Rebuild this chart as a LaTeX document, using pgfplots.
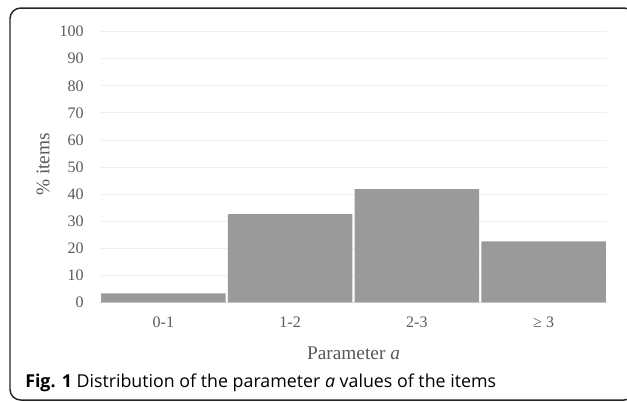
\documentclass[border=0pt]{standalone}
\usepackage{fontspec}
\setmainfont{Liberation Serif}
\newfontfamily\capfont{Open Sans}
\usepackage{pgfplots}
\pgfplotsset{compat=1.18}
\definecolor{barg}{RGB}{154,154,154}
\definecolor{txtg}{RGB}{89,89,89}
\definecolor{gridg}{RGB}{240,240,240}
\definecolor{axg}{RGB}{217,217,217}
\begin{document}
\begin{tikzpicture}
\useasboundingbox (-75pt,-74.775pt) rectangle (395.25pt,226.725pt);
\draw[line width=1.1pt, color=black!85, rounded corners=8pt] (-67.5pt,-73.3pt) rectangle (401pt,220.7pt);
\begin{axis}[
  at={(0,0)}, anchor=south west,
  scale only axis,
  width=380.25pt, height=202.95pt,
  xmin=-0.5, xmax=3.5, ymin=0, ymax=100,
  xtick={0,1,2,3},
  xticklabels={0-1,1-2,2-3,≥ 3},
  ytick={0,10,...,100},
  /pgf/number format/assume math mode=true,
  axis lines*=left,
  y axis line style={draw=none},
  x axis line style={draw=axg, line width=0.6pt},
  major tick length=0pt,
  ymajorgrids,
  grid style={draw=gridg, line width=0.6pt},
  tick label style={font=\fontsize{12}{14}\selectfont, text=txtg},
  yticklabel style={inner sep=0pt, xshift=-12pt},
  xticklabel style={inner sep=0pt, yshift=-11pt},
  xlabel={Parameter \textit{a}},
  ylabel={\% items},
  label style={font=\fontsize{14.5}{16}\selectfont, text=txtg},
  xlabel style={at={(axis description cs:0.5,-0.1885)}, anchor=center},
  ylabel style={at={(axis description cs:-0.1124,0.51)}, anchor=center},
]
\addplot[ybar, bar width=93.4pt, bar shift=0pt, fill=barg, draw=none]
  coordinates {(0,3.3) (1,32.6) (2,41.8) (3,22.5)};
\end{axis}
\node[anchor=west, inner sep=0pt, font=\capfont\fontsize{13.35}{15}\selectfont] at (-56.25pt,-60.5pt)
  {\textbf{Fig. 1} Distribution of the parameter \textit{a} values of the items};
\end{tikzpicture}
\end{document}
